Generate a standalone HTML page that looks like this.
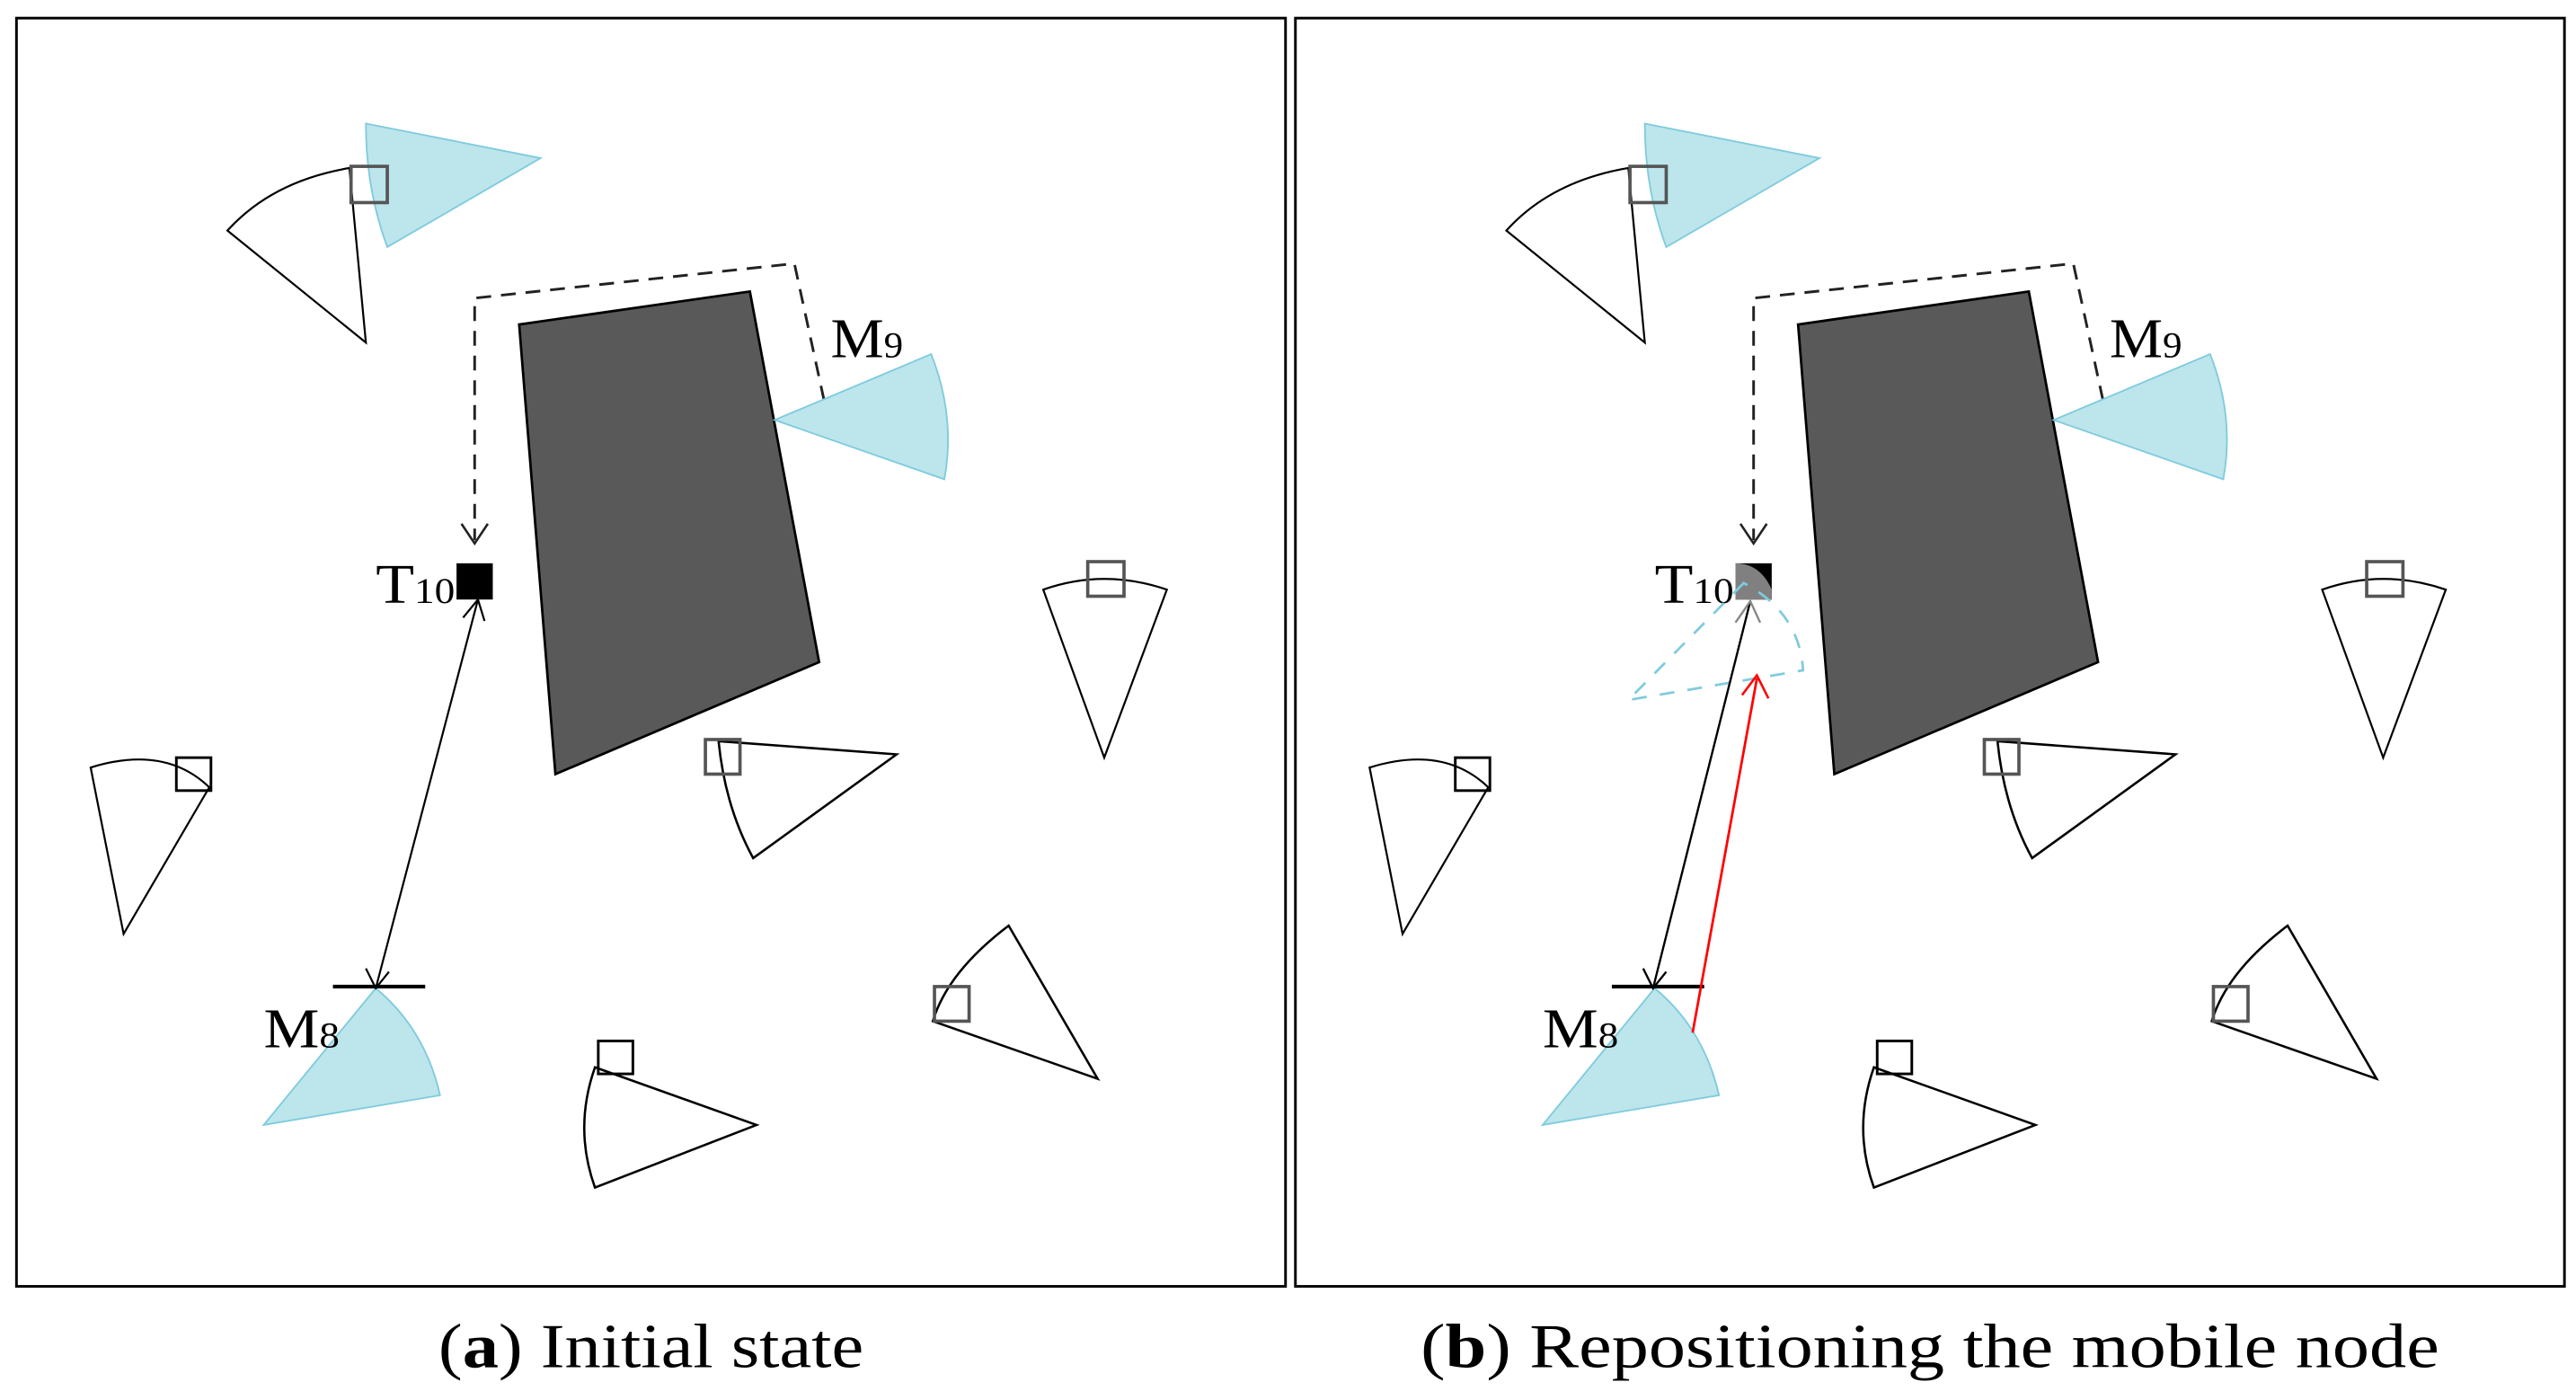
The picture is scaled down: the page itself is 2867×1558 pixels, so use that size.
<!DOCTYPE html>
<html><head><meta charset="utf-8"><style>html,body{margin:0;padding:0;background:#fff}svg{display:block}</style></head>
<body>
<svg width="2867" height="1558" viewBox="0 0 1563 850" preserveAspectRatio="none" xmlns="http://www.w3.org/2000/svg" font-family="Liberation Serif, serif">
<defs>
<g id="common">
  <path d="M222,75 L328,96 L235,150 Q222,115 222,75 Z" fill="#bce5ec" stroke="#7fcbdc" stroke-width="1"/>
  <path d="M222,208 L138,140 Q165,110 212,102 Z" fill="none" stroke="#000" stroke-width="1.2"/>
  <rect x="213" y="101" width="22" height="22" fill="none" stroke="#555" stroke-width="2"/>
  <polyline points="500,243 482,160 288,181 288,328" fill="none" stroke="#222" stroke-width="1.6" stroke-dasharray="9,6"/>
  <polyline points="280,318 288,330 296,318" fill="none" stroke="#222" stroke-width="1.4"/>
  <polygon points="315,197 455,177 497,402 337,470" fill="#595959" stroke="#000" stroke-width="1.5"/>
  <text x="504" y="217" font-size="34" textLength="44" lengthAdjust="spacingAndGlyphs">M<tspan font-size="22">9</tspan></text>
  <path d="M470,255 L565,215 Q580,253 573,291 Z" fill="#bce5ec" stroke="#7fcbdc" stroke-width="1"/>
  <path d="M670,460 L633,358 Q670,345 708,358 Z" fill="none" stroke="#000" stroke-width="1.2"/>
  <rect x="660" y="341" width="22" height="21" fill="none" stroke="#555" stroke-width="2"/>
  <path d="M75,567 L55,466 Q100,452 127,478 Z" fill="none" stroke="#000" stroke-width="1.2"/>
  <rect x="107" y="460" width="21" height="20" fill="none" stroke="#000" stroke-width="1.6"/>
  <path d="M436,450 L544,458 L457,521 Q440,490 436,450 Z" fill="none" stroke="#000" stroke-width="1.4"/>
  <rect x="428" y="449" width="21" height="21" fill="none" stroke="#555" stroke-width="2"/>
  <path d="M566,620 L666,655 L612,562 Q575,590 566,620 Z" fill="none" stroke="#000" stroke-width="1.4"/>
  <rect x="567" y="599" width="21" height="21" fill="none" stroke="#555" stroke-width="2"/>
  <path d="M361,648 L459,683 L361,721 Q348,685 361,648 Z" fill="none" stroke="#000" stroke-width="1.4"/>
  <rect x="363" y="632" width="21" height="20" fill="none" stroke="#000" stroke-width="1.6"/>
  <path d="M228,600 L160,683 L267,665 Q258,625 228,600 Z" fill="#bce5ec" stroke="#7fcbdc" stroke-width="1"/>
  <line x1="202" y1="599" x2="258" y2="599" stroke="#000" stroke-width="2.2"/>
  <text x="160" y="636" font-size="34" textLength="46" lengthAdjust="spacingAndGlyphs">M<tspan font-size="22">8</tspan></text>
  <text x="228" y="366" font-size="34" textLength="48" lengthAdjust="spacingAndGlyphs">T<tspan font-size="22">10</tspan></text>
</g>
</defs>
<rect x="10" y="11" width="770" height="770" fill="none" stroke="#000" stroke-width="1.6"/>
<rect x="786" y="11" width="770" height="770" fill="none" stroke="#000" stroke-width="1.6"/>
<use href="#common"/>
<rect x="277" y="342" width="22" height="22" fill="#000"/>
<line x1="290" y1="364" x2="228" y2="600" stroke="#000" stroke-width="1.2"/>
<polyline points="281,375 290,364 294,377" fill="none" stroke="#000" stroke-width="1.2"/>
<polyline points="222,588 228,600 236,590" fill="none" stroke="#000" stroke-width="1.2"/>
<g transform="translate(776,0)"><use href="#common"/></g>
<rect x="1053" y="342" width="22" height="22" fill="#000"/>
<path d="M1053,364 L1053,342 Q1068,342 1075,358 L1075,364 Z" fill="#808080"/>
<path d="M1058,354 L988,425 L1094,407 Q1092,372 1058,354 Z" fill="none" stroke="#7fcbdc" stroke-width="1.5" stroke-dasharray="9,8"/>
<line x1="1062" y1="365" x2="1003" y2="600" stroke="#000" stroke-width="1.3"/>
<polyline points="1053,378 1062,365 1068,378" fill="none" stroke="#888" stroke-width="1.3"/>
<polyline points="997,588 1003,600 1011,590" fill="none" stroke="#000" stroke-width="1.3"/>
<line x1="1027" y1="627" x2="1066" y2="412" stroke="#ff0000" stroke-width="1.5"/>
<polyline points="1057,422 1066,410 1073,424" fill="none" stroke="#ff0000" stroke-width="1.4"/>
<text x="266" y="830" font-size="38" textLength="258" lengthAdjust="spacingAndGlyphs">(<tspan font-weight="bold">a</tspan>) Initial state</text>
<text x="862" y="830" font-size="38" textLength="618" lengthAdjust="spacingAndGlyphs">(<tspan font-weight="bold">b</tspan>) Repositioning the mobile node</text>
</svg>
</body></html>
